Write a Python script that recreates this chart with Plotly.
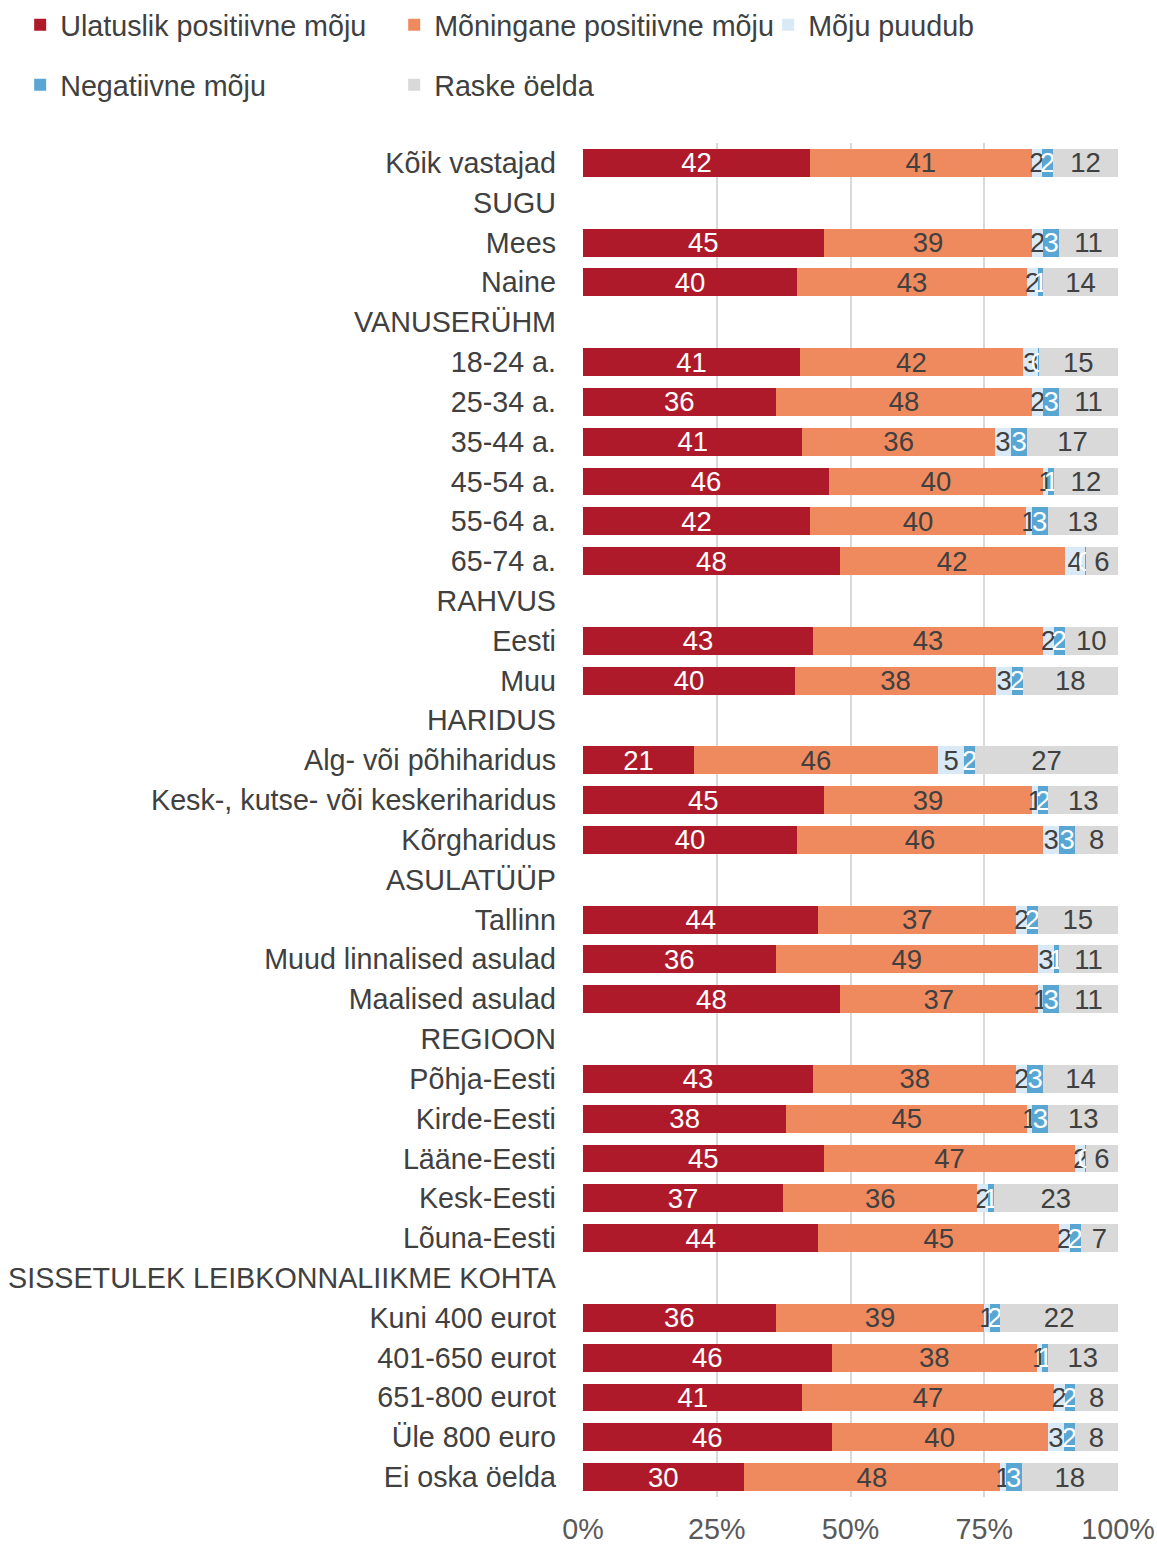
import plotly.graph_objects as go

categories = [
    "Kõik vastajad", "SUGU", "Mees", "Naine", "VANUSERÜHM",
    "18-24 a.", "25-34 a.", "35-44 a.", "45-54 a.", "55-64 a.", "65-74 a.",
    "RAHVUS", "Eesti", "Muu", "HARIDUS",
    "Alg- või põhiharidus", "Kesk-, kutse- või keskeriharidus", "Kõrgharidus",
    "ASULATÜÜP", "Tallinn", "Muud linnalised asulad", "Maalised asulad",
    "REGIOON", "Põhja-Eesti", "Kirde-Eesti", "Lääne-Eesti", "Kesk-Eesti", "Lõuna-Eesti",
    "SISSETULEK LEIBKONNALIIKME KOHTA",
    "Kuni 400 eurot", "401-650 eurot", "651-800 eurot", "Üle 800 euro", "Ei oska öelda",
]

ulatuslik = [42, None, 45, 40, None, 41, 36, 41, 46, 42, 48, None, 43, 40, None,
             21, 45, 40, None, 44, 36, 48, None, 43, 38, 45, 37, 44, None,
             36, 46, 41, 46, 30]
moninganae = [41, None, 39, 43, None, 42, 48, 36, 40, 40, 42, None, 43, 38, None,
              46, 39, 46, None, 37, 49, 37, None, 38, 45, 47, 36, 45, None,
              39, 38, 47, 40, 48]
puudub = [2, None, 2, 2, None, 3, 2, 3, 1, 1, 4, None, 2, 3, None,
          5, 1, 3, None, 2, 3, 1, None, 2, 1, 2, 2, 2, None,
          1, 1, 2, 3, 1]
negatiivne = [2, None, 3, 1, None, 0, 3, 3, 1, 3, 0, None, 2, 2, None,
              2, 2, 3, None, 2, 1, 3, None, 3, 3, 0, 1, 2, None,
              2, 1, 2, 2, 3]
raske = [12, None, 11, 14, None, 15, 11, 17, 12, 13, 6, None, 10, 18, None,
         27, 13, 8, None, 15, 11, 11, None, 14, 13, 6, 23, 7, None,
         22, 13, 8, 8, 18]

ticks = [0, 25, 50, 75, 100]

series = [
    ("Ulatuslik positiivne mõju", ulatuslik, "#AF1A2B", "white", "legend"),
    ("Mõningane positiivne mõju", moninganae, "#EF8A5E", "#404040", "legend"),
    ("Mõju puudub", puudub, "#D9E9F5", "#404040", "legend"),
    ("Negatiivne mõju", negatiivne, "#5AA6D3", "white", "legend2"),
    ("Raske öelda", raske, "#D9D9D9", "#404040", "legend2"),
]

FONT = "Liberation Sans, Arial"

fig = go.Figure()
for name, vals, color, tcolor, leg in series:
    # zero-width bars get no label in plotly, so give them a hair of width
    xs = [None if v is None else (v if v else 0.001) for v in vals]
    fig.add_trace(go.Bar(
        y=categories, x=xs, name=name, orientation="h",
        marker=dict(color=color, line=dict(width=0)),
        text=["" if v is None else str(v) for v in vals],
        textposition="inside", insidetextanchor="middle",
        textangle=0, constraintext="none",
        textfont=dict(color=tcolor, size=27.5, family=FONT),
        legend=leg, hoverinfo="text+y+name",
    ))

legend_common = dict(
    orientation="h", xanchor="left", yanchor="middle", traceorder="normal",
    entrywidth=329, entrywidthmode="pixels",
    font=dict(size=28.7, color="#404040", family=FONT),
    bgcolor="rgba(0,0,0,0)", itemclick=False,
)

fig.update_layout(
    barmode="stack", barnorm="percent", bargap=0.3,
    width=1157, height=1544,
    margin=dict(l=583, r=39, t=143, b=47, autoexpand=False),
    plot_bgcolor="white", paper_bgcolor="white",
    font=dict(family=FONT, size=28.7, color="#404040"),
    legend=dict(x=-1.052, y=1.0871, **legend_common),
    legend2=dict(x=-1.052, y=1.0428, **legend_common),
    xaxis=dict(
        range=[0, 100], tickvals=ticks, ticktext=[f"{t}%" for t in ticks],
        showgrid=True, gridcolor="#D9D9D9", gridwidth=1.5,
        zeroline=False, showline=False, ticklabelstandoff=12,
        tickfont=dict(size=28.7, color="#595959"),
    ),
    yaxis=dict(
        categoryorder="array", categoryarray=categories, autorange="reversed",
        showgrid=False, ticks="", ticklabelstandoff=26,
        tickfont=dict(size=28.7, color="#404040"),
    ),
    showlegend=True,
)

# drop the browser's default body margin so the figure sits at the page corner
fig.write_html("out.html", config={"displayModeBar": False},
               post_script="document.body.style.margin='0';")
